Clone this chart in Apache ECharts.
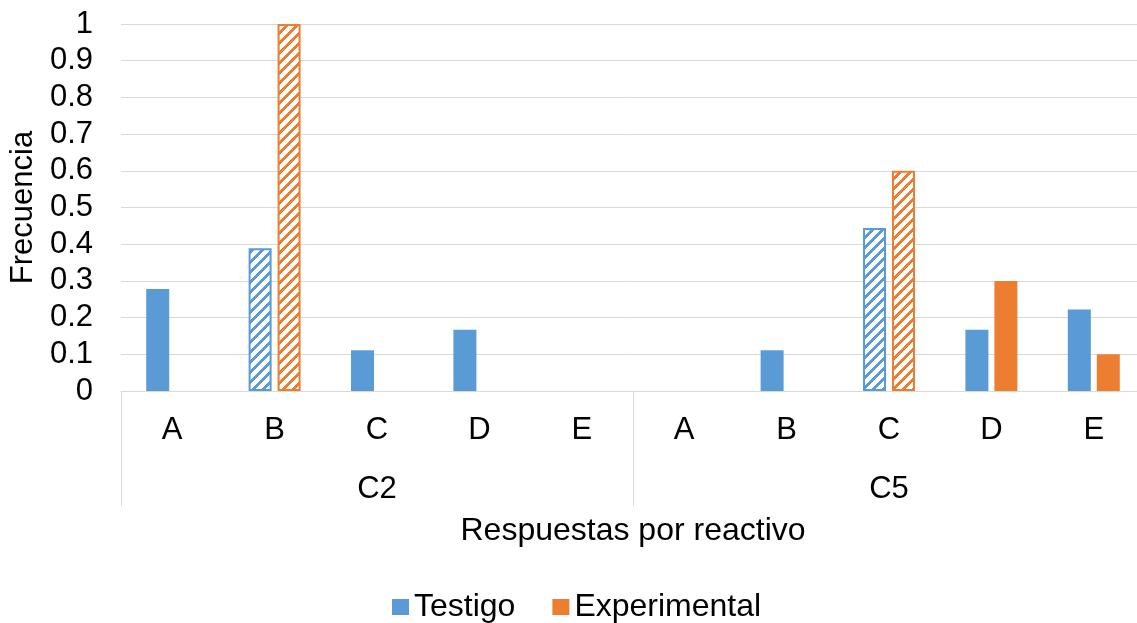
<!DOCTYPE html>
<html>
<head>
<meta charset="utf-8">
<script src="https://cdn.jsdelivr.net/npm/echarts@6/dist/echarts.min.js"></script>
<style>
html,body{margin:0;padding:0;background:#fff;}
#main{width:1137px;height:623px;}
</style>
</head>
<body>
<div id="main"></div>
<script>
// ---- data ----
const categories = ['A','B','C','D','E','A','B','C','D','E'];
const groups = ['C2','C5'];
const testigo = [0.278, 0.389, 0.111, 0.167, 0, 0, 0.111, 0.444, 0.167, 0.222];
const experimental = [0, 1, 0, 0, 0, 0, 0, 0.6, 0.3, 0.1];
const hatched = [1, 7]; // indexes of hatched (correct-answer) bars
const yTicks = [0,0.1,0.2,0.3,0.4,0.5,0.6,0.7,0.8,0.9,1];

const BLUE = '#5B9BD5', ORANGE = '#ED7D31';
const FONT = 'Liberation Sans, Arial, sans-serif';
const FS = 31;

function stripePattern(color){
  const s = 10, w = 4;
  const c = document.createElement('canvas');
  c.width = s; c.height = s;
  const ctx = c.getContext('2d');
  ctx.fillStyle = '#fff';
  ctx.fillRect(0,0,s,s);
  ctx.fillStyle = color;
  for(let x=0;x<s;x++){
    for(let y=0;y<s;y++){
      if(((x + y) % s) < w) ctx.fillRect(x,y,1,1);
    }
  }
  return {image: c, repeat: 'repeat'};
}

function buildData(vals, color){
  return vals.map((v,i)=>{
    if(hatched.indexOf(i) >= 0){
      return {value: v, itemStyle: {color: stripePattern(color), borderColor: color, borderWidth: 2}};
    }
    return v;
  });
}

const chart = echarts.init(document.getElementById('main'));
chart.setOption({
  animation: false,
  textStyle: {fontFamily: FONT},
  grid: {left: 121, top: 24, width: 1024, height: 367, containLabel: false, outerBoundsMode: 'none'},
  legend: {
    data: ['Testigo','Experimental'],
    left: 387,
    bottom: -5,
    itemWidth: 17, itemHeight: 16, itemGap: 37,
    icon: 'rect',
    textStyle: {fontSize: 32, color: '#000', fontFamily: FONT}
  },
  xAxis: [
    {
      type: 'category',
      data: categories,
      axisLine: {lineStyle: {color: '#D9D9D9', width: 1}},
      axisTick: {show: false},
      axisLabel: {fontSize: FS, color: '#000', margin: 24, interval: 0},
      name: 'Respuestas por reactivo',
      nameLocation: 'middle',
      nameGap: 124,
      nameTextStyle: {fontSize: 32, color: '#000'}
    },
    {
      type: 'category',
      data: groups,
      position: 'bottom',
      axisLine: {show: false},
      axisTick: {show: true, length: 115, lineStyle: {color: '#D9D9D9', width: 1}},
      axisLabel: {fontSize: FS, color: '#000', margin: 83},
      splitLine: {show: false}
    }
  ],
  yAxis: {
    type: 'value',
    min: 0, max: 1, interval: 0.1,
    axisLine: {show: false},
    axisTick: {show: false},
    axisLabel: {fontSize: FS, color: '#000', margin: 28,
      formatter: v => { const t = yTicks.find(x => Math.abs(x - v) < 1e-9); return String(t !== undefined ? t : v); }},
    splitLine: {lineStyle: {color: '#D9D9D9', width: 1}},
    name: 'Frecuencia',
    nameLocation: 'middle',
    nameGap: 77,
    nameRotate: 90,
    nameTextStyle: {fontSize: FS, color: '#000'}
  },
  series: [
    {
      name: 'Testigo', type: 'bar', xAxisIndex: 0,
      data: buildData(testigo, BLUE),
      itemStyle: {color: BLUE},
      barWidth: 23, barGap: '26%'
    },
    {
      name: 'Experimental', type: 'bar', xAxisIndex: 0,
      data: buildData(experimental, ORANGE),
      itemStyle: {color: ORANGE},
      barWidth: 23, barGap: '26%'
    }
  ]
});
</script>
</body>
</html>
